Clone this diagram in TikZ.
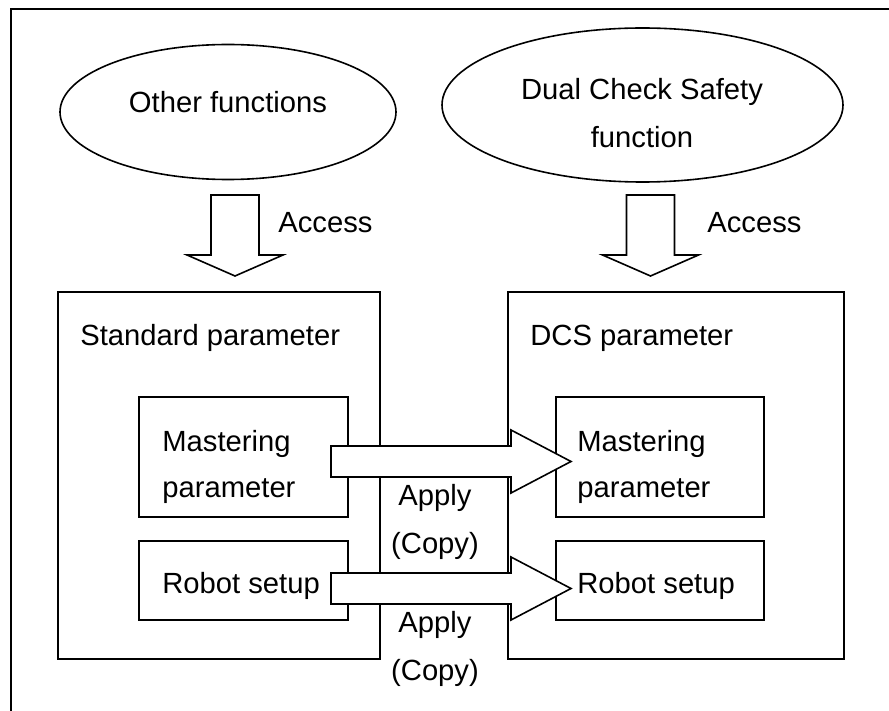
\documentclass[tikz,border=0pt]{standalone}
\usepackage{fontspec}
\setmainfont{Liberation Sans}
\usetikzlibrary{shapes.geometric}

\begin{document}
\begin{tikzpicture}
  [x=0.5pt,y=-0.5pt,font=\fontsize{14.6pt}{24pt}\selectfont]
      \tikzstyle{func_style} = [draw=black, line width=0.8pt, ellipse, inner sep=0]
      \tikzstyle{box_style} = [draw=black, line width=0.8pt, rectangle, inner sep=0]
      \tikzstyle{txt_style} = [inner sep=0, anchor=base west]
      \tikzstyle{ctr_style} = [inner sep=0, anchor=base]
      \tikzstyle{block_arrow} = [draw=black, fill=white, line width=0.8pt, line join=miter]
  \useasboundingbox (0,0) rectangle (889,711);
  % frame
  \draw[line width=1.3pt] (11,711) -- (11,9) -- (889,9);
  % functions
  \node[func_style, minimum width=168pt, minimum height=67.5pt] (oth) at (228,112) {};
  \node[func_style, minimum width=200.5pt, minimum height=77pt] (dcs) at (642.5,105) {};
  \node[ctr_style] (othtxt) at (228,113) {Other functions};
  \node[ctr_style] (dcstxt1) at (642,100) {Dual Check Safety};
  \node[ctr_style] (dcstxt2) at (642,148) {function};
  % parameters
  \node[box_style, minimum width=161pt, minimum height=183.5pt] (std) at (219,475.5) {};
  \node[box_style, minimum width=168pt, minimum height=183.5pt] (dcsp) at (676,475.5) {};
  \node[box_style, minimum width=104.5pt, minimum height=60pt] (mstL) at (243.5,457) {};
  \node[box_style, minimum width=104.5pt, minimum height=39.5pt] (robL) at (243.5,580.5) {};
  \node[box_style, minimum width=104pt, minimum height=60pt] (mstR) at (660,457) {};
  \node[box_style, minimum width=104pt, minimum height=39.5pt] (robR) at (660,580.5) {};
  \node[txt_style] (stdtxt) at (80,345) {Standard parameter};
  \node[txt_style] (dcsptxt) at (530,345) {DCS parameter};
  \node[txt_style] (mstLtxt1) at (162,451) {Mastering};
  \node[txt_style] (mstLtxt2) at (162,497) {parameter};
  \node[txt_style] (robLtxt) at (162,593) {Robot setup};
  \node[txt_style] (mstRtxt1) at (577,451) {Mastering};
  \node[txt_style] (mstRtxt2) at (577,497) {parameter};
  \node[txt_style] (robRtxt) at (577,593) {Robot setup};
  % access arrows
  \coordinate (acc1) at (235,195);
  \coordinate (acc2) at (650.5,195);
  \draw[block_arrow] (acc1) ++(-24,0) -- ++(48,0) -- ++(0,60) -- ++(24,0) -- ++(-48,21) -- ++(-48,-21) -- ++(24,0) -- cycle;
  \draw[block_arrow] (acc2) ++(-24,0) -- ++(48,0) -- ++(0,60) -- ++(24,0) -- ++(-48,21) -- ++(-48,-21) -- ++(24,0) -- cycle;
  \node[txt_style] (acctxt1) at (278,233) {Access};
  \node[txt_style] (acctxt2) at (707,233) {Access};
  % apply arrows
  \coordinate (app1) at (331,461.5);
  \coordinate (app2) at (331,588.5);
  \draw[block_arrow] (app1) ++(0,-15.5) -- ++(180,0) -- ++(0,-16) -- ++(60,31.5) -- ++(-60,31.5) -- ++(0,-16) -- ++(-180,0) -- cycle;
  \draw[block_arrow] (app2) ++(0,-15.5) -- ++(180,0) -- ++(0,-16) -- ++(60,31.5) -- ++(-60,31.5) -- ++(0,-16) -- ++(-180,0) -- cycle;
  \node[ctr_style] (apptxt1) at (435,505) {Apply};
  \node[ctr_style] (cpytxt1) at (435,553) {(Copy)};
  \node[ctr_style] (apptxt2) at (435,632) {Apply};
  \node[ctr_style] (cpytxt2) at (435,680) {(Copy)};
\end{tikzpicture}
\end{document}
